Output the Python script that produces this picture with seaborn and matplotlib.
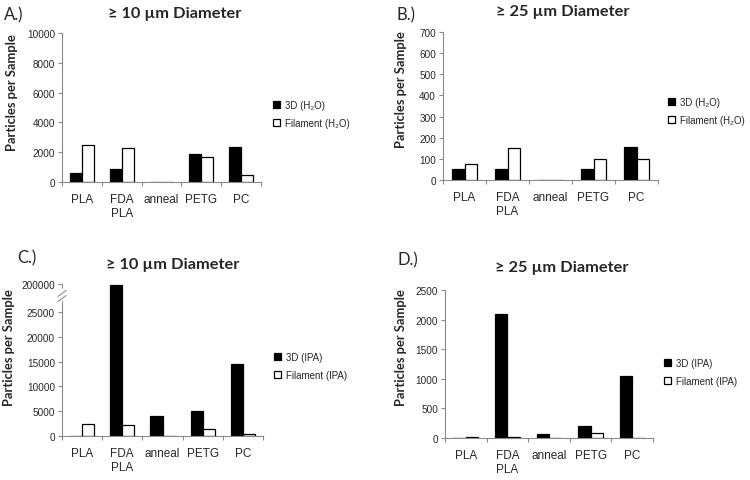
import numpy as np
import pandas as pd
import matplotlib
matplotlib.use("Agg")
import matplotlib.pyplot as plt
import seaborn as sns

# ---------------- data ----------------
materials = ["PLA", "FDA\nPLA", "anneal", "PETG", "PC"]

a_3d = [600, 900, 0, 1900, 2350]
a_fil = [2450, 2300, 0, 1650, 450]

b_3d = [50, 50, 0, 50, 155]
b_fil = [75, 150, 0, 100, 100]

c_3d = [0, 195000, 4000, 5100, 14500]
c_fil = [2400, 2200, 0, 1500, 500]

d_3d = [0, 2100, 60, 200, 1050]
d_fil = [25, 25, 0, 80, 0]

h2o_series = ["3D (H\u2082O)", "Filament (H\u2082O)"]
ipa_series = ["3D (IPA)", "Filament (IPA)"]

titles = ["\u2265 10 \u00b5m Diameter", "\u2265 25 \u00b5m Diameter",
          "\u2265 10 \u00b5m Diameter", "\u2265 25 \u00b5m Diameter"]
panel_labels = ["A.)", "B.)", "C.)", "D.)"]
ylabel = "Particles per Sample"

a_ticks = [0, 2000, 4000, 6000, 8000, 10000]
b_ticks = [0, 100, 200, 300, 400, 500, 600, 700]
c_ticks = [0, 5000, 10000, 15000, 20000, 25000, 200000]
d_ticks = [0, 500, 1000, 1500, 2000, 2500]

# ---------------- style ----------------
sns.set_theme(style="white")
plt.rcParams["font.family"] = ["Liberation Sans", "DejaVu Sans"]

W, H = 750, 481
fig = plt.figure(figsize=(W / 100, H / 100), dpi=100)


def rect(l, r, t, b):
    return [l / W, 1 - b / H, (r - l) / W, (b - t) / H]


AX_GRAY = "#8a8a8a"

# break scale for panel C
BRK = 25000
K = 5645 / 175000


def fwd(y):
    y = np.asarray(y, dtype=float)
    return np.where(y <= BRK, y, BRK + (y - BRK) * K)


def inv(y):
    y = np.asarray(y, dtype=float)
    return np.where(y <= BRK, y, BRK + (y - BRK) / K)


panels = [
    dict(r=rect(62, 261, 34, 183), d3=a_3d, fil=a_fil, ser=h2o_series, ticks=a_ticks,
         title_xy=(175, 18), lab_xy=(4, 20), ylab=(-0.222, 0.61), leg=(273, 115)),
    dict(r=rect(443, 658, 33, 181), d3=b_3d, fil=b_fil, ser=h2o_series, ticks=b_ticks,
         title_xy=(563, 16), lab_xy=(396, 20), ylab=(-0.167, 0.615), leg=(668, 112)),
    dict(r=rect(62, 263, 285, 437), d3=c_3d, fil=c_fil, ser=ipa_series, ticks=c_ticks,
         title_xy=(173, 269), lab_xy=(17, 263), ylab=(-0.234, 0.59), leg=(274, 367)),
    dict(r=rect(445, 653, 291, 439), d3=d_3d, fil=d_fil, ser=ipa_series, ticks=d_ticks,
         title_xy=(562, 272), lab_xy=(398, 265), ylab=(-0.183, 0.615), leg=(664, 373)),
]

for i, p in enumerate(panels):
    ax = fig.add_axes(p["r"])
    df = pd.DataFrame({
        "material": materials * 2,
        "count": list(p["d3"]) + list(p["fil"]),
        "series": [p["ser"][0]] * len(materials) + [p["ser"][1]] * len(materials),
    })
    if i == 2:
        ax.set_yscale("function", functions=(fwd, inv))
    sns.barplot(data=df, x="material", y="count", hue="series",
                order=materials, hue_order=p["ser"],
                palette=["black", "white"], edgecolor="black", linewidth=0.9,
                width=0.6, gap=0, errorbar=None, ax=ax, legend=True)
    handles, labels = ax.get_legend_handles_labels()
    ax.get_legend().remove()

    ax.set_xlim(-0.5, len(materials) - 0.5)
    ax.set_ylim(p["ticks"][0], p["ticks"][-1])
    ax.set_yticks(p["ticks"], [str(t) for t in p["ticks"]])
    ax.set_xlabel("")
    ax.set_ylabel(ylabel, fontsize=9.3, fontweight="bold", family=["Lato", "DejaVu Sans"])
    ax.yaxis.set_label_coords(*p["ylab"])

    for s in ["top", "right"]:
        ax.spines[s].set_visible(False)
    for s in ["left", "bottom"]:
        ax.spines[s].set_color(AX_GRAY)
        ax.spines[s].set_linewidth(0.8)
        ax.spines[s].set_zorder(5)

    ax.tick_params(axis="y", direction="out", length=3, width=0.8, color=AX_GRAY,
                   labelsize=7.2, pad=2, left=True)
    ax.tick_params(axis="x", which="major", length=0, labelsize=8.5, pad=8)
    ax.set_xticks(np.arange(-0.5, len(materials)), minor=True)
    ax.tick_params(axis="x", which="minor", direction="out", length=3, width=0.8,
                   color=AX_GRAY, bottom=True)
    ax.grid(False)

    if i == 2:
        yb = (437 - 297) / 152
        dx = 4 / 201
        dy = 1 / 152
        ax.plot([-0.5 * dx, 0.5 * dx], [yb - 6 * dy, yb + 6 * dy], color="white",
                lw=3, transform=ax.transAxes, clip_on=False, zorder=6)
        for off in (-2.5, 2.5):
            ax.plot([-dx, dx], [yb + off * dy - 3 * dy, yb + off * dy + 3 * dy],
                    color=AX_GRAY, lw=0.8, transform=ax.transAxes, clip_on=False, zorder=7)

    lx, ly = p["leg"]
    ax.legend(handles, labels, loc="center left",
              bbox_to_anchor=(lx / W, 1 - ly / H), bbox_transform=fig.transFigure,
              frameon=False, fontsize=7, handlelength=0.7, handleheight=0.7,
              handletextpad=0.5, labelspacing=0.8, borderpad=0, borderaxespad=0)

    tx, ty = p["title_xy"]
    fig.text(tx / W, 1 - ty / H, titles[i], ha="center", va="baseline",
             fontsize=11.8, fontweight="bold", family=["Lato", "DejaVu Sans"])
    px, py = p["lab_xy"]
    fig.text(px / W, 1 - py / H, panel_labels[i], ha="left", va="baseline",
             fontsize=12, family=["Lato", "DejaVu Sans"])

fig.savefig("out.png", dpi=100, facecolor="white")
